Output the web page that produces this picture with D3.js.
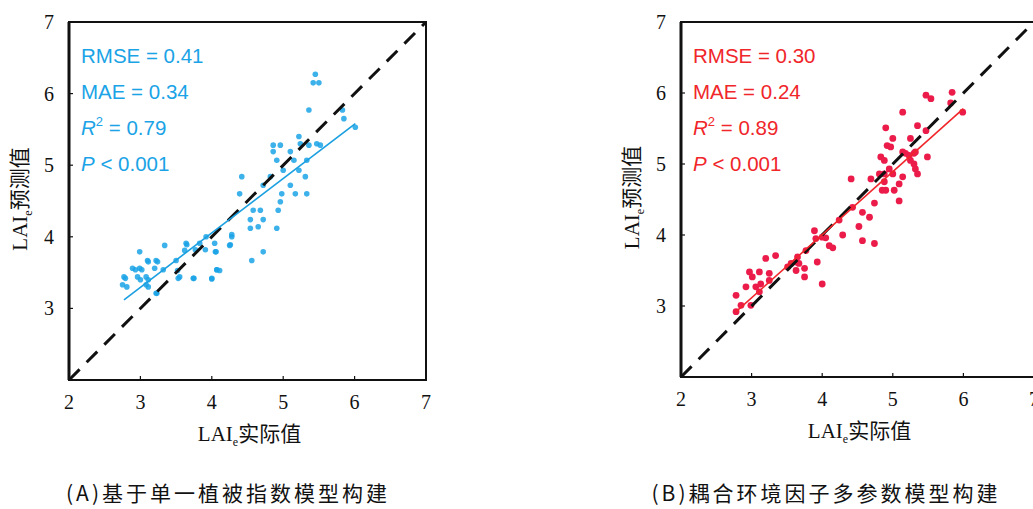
<!DOCTYPE html>
<html lang="zh">
<head>
<meta charset="UTF-8">
<title>LAI</title>
<script src="https://cdn.jsdelivr.net/npm/d3@7/dist/d3.min.js"></script>
<style>
  body { margin: 0; background: #fff; }
  svg { display: block; }
  .num { font-family: "Liberation Serif", "DejaVu Serif", serif; font-size: 20px; fill: #111; }
  .lab { font-family: "Liberation Serif", serif; font-size: 21px; fill: #111; }
  .cjk { font-family: "Noto Sans CJK SC", sans-serif; font-size: 21px; }
  .stat { font-family: "Liberation Sans", Arial, sans-serif; font-size: 20.5px; }
  .cap { font-family: "Noto Sans CJK SC", sans-serif; font-size: 21px; letter-spacing: 3px; fill: #111; }
</style>
</head>
<body>
<svg width="1033" height="509"></svg>
<script>
// 坐标轴
var ticks = [2, 3, 4, 5, 6, 7]
var yTicks = [3, 4, 5, 6, 7]
var domain = [2, 7]

// (A) 基于单一植被指数
var aX = [5.45, 5.5, 5.42, 5.36, 5.83, 5.85, 6.01, 5.22, 4.86, 4.96, 5.1, 4.86, 4.91,
  5.24, 5.36, 5.47, 5.52, 5.15, 5.33, 5.0, 5.22, 5.31, 4.82, 4.42, 5.1, 4.72,
  4.98, 5.17, 5.33, 4.39, 4.96, 4.93, 4.58, 4.68, 4.54, 4.72, 4.54, 4.65, 4.91,
  4.28, 4.25, 4.04, 4.06, 3.92, 3.83, 3.64, 3.62, 3.34, 2.99, 3.1, 3.22, 3.5,
  2.89, 2.99, 3.2, 3.52, 4.07, 4.11, 2.77, 2.96, 3.08, 3.55, 3.74, 4.0, 2.75,
  3.08, 3.22, 4.56, 4.72, 3.11, 3.24, 2.93, 3.02, 3.32, 2.79, 3.0, 3.11, 3.53,
  3.75, 4.07, 4.0, 2.81, 3.11, 3.23, 3.65, 3.77, 3.91, 4.05, 4.28, 4.26]
var aY = [6.27, 6.15, 6.15, 5.77, 5.77, 5.65, 5.53, 5.40, 5.28, 5.28, 5.19, 5.19, 5.07,
  5.30, 5.28, 5.30, 5.28, 5.07, 5.07, 4.93, 4.93, 4.84, 4.84, 4.84, 4.72, 4.72,
  4.60, 4.60, 4.60, 4.60, 4.49, 4.37, 4.37, 4.37, 4.24, 4.24, 4.12, 4.14, 4.12,
  4.0, 3.88, 3.91, 3.79, 4.0, 3.91, 3.91, 3.81, 3.88, 3.79, 3.67, 3.67, 3.67,
  3.56, 3.56, 3.56, 3.53, 3.54, 3.53, 3.44, 3.44, 3.44, 3.44, 3.42, 3.42, 3.33,
  3.33, 3.21, 3.67, 3.79, 3.65, 3.65, 3.54, 3.54, 3.54, 3.42, 3.40, 3.40, 3.42,
  3.42, 3.54, 3.41, 3.30, 3.30, 3.21, 3.89, 3.82, 3.82, 3.79, 4.03, 3.89]
var fitAX = [2.77, 6.01]
var fitAY = [3.12, 5.58]
var statsA = ["RMSE = 0.41", "MAE = 0.34", "0.79", "0.001"]

// (B) 耦合环境因子多参数
var bX = [5.84, 5.47, 5.54, 5.82, 5.99, 5.14, 5.47, 5.35, 4.9, 5.0, 4.92, 4.97, 5.25,
  4.83, 4.88, 5.14, 5.18, 5.23, 5.30, 5.32, 5.49, 5.25, 5.3, 5.32, 5.35, 4.95,
  5.0, 4.88, 4.81, 5.14, 5.09, 4.41, 4.69, 4.88, 4.9, 5.02, 4.85, 5.09, 4.74,
  4.43, 4.57, 4.67, 4.24, 4.52, 4.29, 4.57, 4.74, 3.89, 3.91, 4.0, 4.05, 4.1,
  4.15, 3.93, 3.77, 3.65, 3.63, 3.56, 3.51, 3.67, 3.75, 3.63, 3.75, 4.0, 3.2,
  3.34, 3.11, 3.25, 2.97, 3.01, 2.92, 3.06, 3.13, 3.25, 2.78, 2.85, 2.99, 2.78, 3.11]
var bY = [6.01, 5.97, 5.92, 5.86, 5.73, 5.73, 5.47, 5.54, 5.51, 5.36, 5.26, 5.24, 5.36,
  5.10, 5.05, 5.17, 5.15, 5.12, 5.15, 5.17, 5.10, 5.05, 5.0, 4.93, 4.86, 4.93,
  4.86, 4.86, 4.86, 4.82, 4.72, 4.79, 4.79, 4.75, 4.63, 4.63, 4.63, 4.48, 4.45,
  4.39, 4.32, 4.25, 4.21, 4.12, 4.0, 3.92, 3.88, 4.06, 3.95, 3.97, 3.96, 3.85,
  3.82, 3.62, 3.78, 3.69, 3.62, 3.60, 3.55, 3.60, 3.53, 3.50, 3.41, 3.31, 3.67,
  3.71, 3.48, 3.46, 3.48, 3.41, 3.27, 3.27, 3.31, 3.36, 3.15, 3.01, 3.01, 2.92, 3.20]
var fitBX = [2.78, 6.0]
var fitBY = [2.92, 5.78]
var statsB = ["RMSE = 0.30", "MAE = 0.24", "0.89", "0.001"]

var svg = d3.select("svg")

function panel(cfg) {
  var x = d3.scaleLinear().domain(domain).range(cfg.xr)
  var y = d3.scaleLinear().domain(domain).range(cfg.yr)
  var g = svg.append("g")

  // 点
  g.append("g").selectAll("circle").data(cfg.xs).enter().append("circle")
    .attr("cx", function (d) { return x(d) })
    .attr("cy", function (d, i) { return y(cfg.ys[i]) })
    .attr("r", cfg.r)
    .attr("fill", cfg.pt)
    .attr("fill-opacity", cfg.op)

  // 1:1 线
  g.append("line")
    .attr("x1", x(2)).attr("y1", y(2)).attr("x2", x(7)).attr("y2", y(7))
    .attr("stroke", "#111").attr("stroke-width", 3)
    .attr("stroke-dasharray", "15,10")

  // 拟合线
  g.append("line")
    .attr("x1", x(cfg.fx[0])).attr("y1", y(cfg.fy[0]))
    .attr("x2", x(cfg.fx[1])).attr("y2", y(cfg.fy[1]))
    .attr("stroke", cfg.line).attr("stroke-width", 1.6)

  // 边框
  g.append("rect")
    .attr("x", x(2)).attr("y", y(7))
    .attr("width", x(7) - x(2)).attr("height", y(2) - y(7))
    .attr("fill", "none").attr("stroke", "#111").attr("stroke-width", 2)
  g.append("line").attr("x1", x(2)).attr("x2", x(2)).attr("y1", y(7)).attr("y2", y(2))
    .attr("stroke", "#111").attr("stroke-width", 3)

  // 刻度
  var inner = ticks.slice(1, -1)
  g.append("g").selectAll("line").data(inner).enter().append("line")
    .attr("x1", function (d) { return x(d) }).attr("x2", function (d) { return x(d) })
    .attr("y1", y(2)).attr("y2", y(2) - 4).attr("stroke", "#111").attr("stroke-width", 1.2)
  g.append("g").selectAll("line").data(inner).enter().append("line")
    .attr("y1", function (d) { return y(d) }).attr("y2", function (d) { return y(d) })
    .attr("x1", x(2)).attr("x2", x(2) + 4).attr("stroke", "#111").attr("stroke-width", 1.2)

  g.append("g").selectAll("text").data(ticks).enter().append("text")
    .attr("class", "num").attr("text-anchor", "middle")
    .attr("x", function (d) { return x(d) }).attr("y", y(2) + 29)
    .text(function (d) { return d })
  g.append("g").selectAll("text").data(yTicks).enter().append("text")
    .attr("class", "num").attr("text-anchor", "middle")
    .attr("x", x(2) - 20).attr("y", function (d) { return y(d) + 7 })
    .text(function (d) { return d })

  // 轴标题
  var xl = g.append("text").attr("class", "lab").attr("text-anchor", "middle")
    .attr("x", (x(2) + x(7)) / 2 + 2).attr("y", y(2) + 61)
  xl.append("tspan").text("LAI")
  xl.append("tspan").attr("font-size", 12).attr("dy", 5).text("e")
  xl.append("tspan").attr("class", "cjk").attr("dy", -5).text("实际值")

  var yl = g.append("text").attr("class", "lab").attr("text-anchor", "middle")
    .attr("transform", "translate(" + (x(2) - 42) + "," + (y(4.5) - 2) + ") rotate(-90)")
  yl.append("tspan").text("LAI")
  yl.append("tspan").attr("font-size", 12).attr("dy", 5).text("e")
  yl.append("tspan").attr("class", "cjk").attr("dy", -5).text("预测值")

  // 统计量
  var st = g.append("g").attr("class", "stat").attr("fill", cfg.txt)
  var sx = x(2) + 12, sy = y(7) + 41, step = 36
  st.append("text").attr("x", sx).attr("y", sy).text(cfg.stats[0])
  st.append("text").attr("x", sx).attr("y", sy + step).text(cfg.stats[1])
  var r2 = st.append("text").attr("x", sx).attr("y", sy + step * 2)
  r2.append("tspan").attr("font-style", "italic").text("R")
  r2.append("tspan").attr("font-size", 13).attr("dy", -9).text("2")
  r2.append("tspan").attr("dy", 9).text(" = " + cfg.stats[2])
  var p = st.append("text").attr("x", sx).attr("y", sy + step * 3)
  p.append("tspan").attr("font-style", "italic").text("P")
  p.append("tspan").text(" < " + cfg.stats[3])

  // 图题
  svg.append("text").attr("class", "cap").attr("text-anchor", "middle")
    .attr("x", cfg.capX).attr("y", 501).text(cfg.cap)
}

panel({
  xr: [69, 426], yr: [380, 22], xs: aX, ys: aY, fx: fitAX, fy: fitAY,
  pt: "#1aa3e6", op: 0.85, r: 2.8, line: "#1a9fe0", txt: "#1aa3e6", stats: statsA,
  cap: "(A)基于单一植被指数模型构建", capX: 228
})
panel({
  xr: [681, 1034], yr: [377, 22], xs: bX, ys: bY, fx: fitBX, fy: fitBY,
  pt: "#ec1c4a", op: 1, r: 3.4, line: "#f0262a", txt: "#f0262a", stats: statsB,
  cap: "(B)耦合环境因子多参数模型构建", capX: 826
})
</script>
</body>
</html>
